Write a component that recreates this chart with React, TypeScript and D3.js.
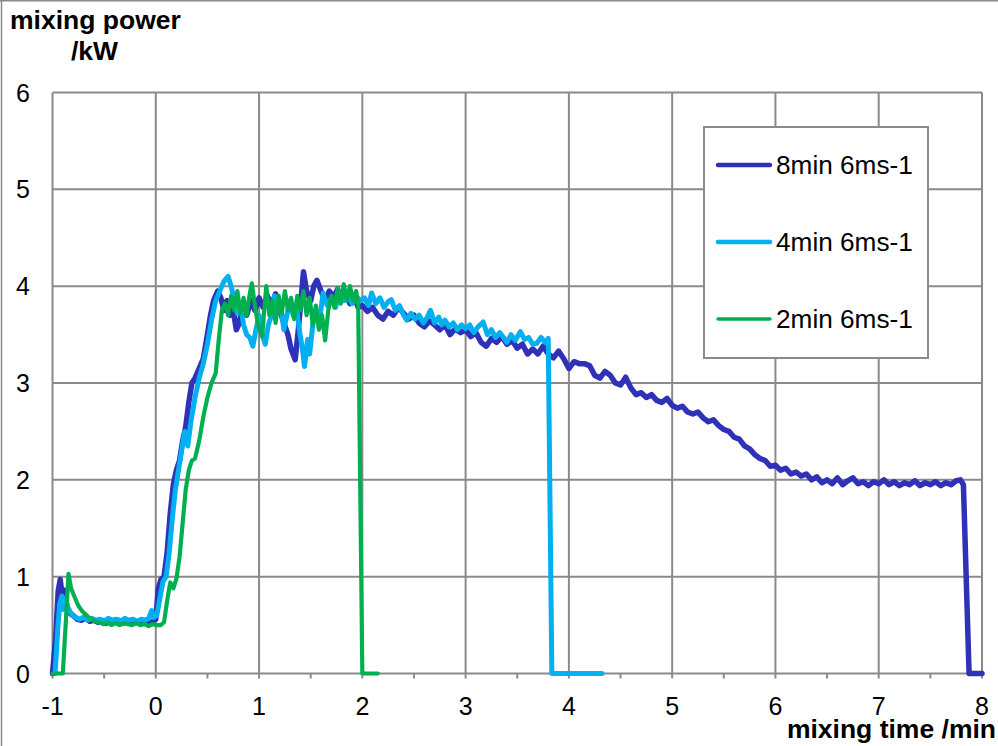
import React from "react";
import * as d3 from "d3";

const xTicks = [-1, 0, 1, 2, 3, 4, 5, 6, 7, 8];
const yTicks = [0, 1, 2, 3, 4, 5, 6];
const seriesNames = ["8min 6ms-1", "4min 6ms-1", "2min 6ms-1"];
const seriesColors = ["#2f31b7", "#00b0f0", "#00b050"];

const run8min: [number, number][] = [
  [-1.0, 0], [-0.97, 0.35], [-0.945, 0.85], [-0.925, 0.97], [-0.905, 0.78], [-0.885, 0.86], [-0.86, 0.68],
  [-0.83, 0.62], [-0.8, 0.6], [-0.76, 0.56], [-0.72, 0.55], [-0.68, 0.57], [-0.64, 0.54], [-0.6, 0.55],
  [-0.56, 0.53], [-0.52, 0.55], [-0.48, 0.52], [-0.44, 0.54], [-0.4, 0.53], [-0.36, 0.55], [-0.32, 0.52],
  [-0.28, 0.54], [-0.24, 0.52], [-0.2, 0.54], [-0.16, 0.52], [-0.12, 0.53], [-0.08, 0.51], [-0.04, 0.53],
  [0.0, 0.56], [0.025, 0.88], [0.05, 0.97], [0.08, 1.0], [0.11, 1.25], [0.14, 1.65], [0.17, 1.95],
  [0.2, 2.1], [0.23, 2.2], [0.26, 2.4], [0.29, 2.55], [0.32, 2.8], [0.35, 3.0], [0.38, 3.05], [0.42, 3.15],
  [0.46, 3.25], [0.5, 3.5], [0.53, 3.7], [0.56, 3.85], [0.6, 3.95], [0.63, 3.88], [0.66, 3.75], [0.69, 3.85],
  [0.72, 3.7], [0.75, 3.75], [0.78, 3.55], [0.81, 3.62], [0.84, 3.8], [0.88, 3.7], [0.92, 3.85], [0.96, 3.75],
  [1.0, 3.88], [1.04, 3.78], [1.08, 3.9], [1.12, 3.8], [1.16, 3.92], [1.2, 3.75], [1.24, 3.62], [1.28, 3.5],
  [1.31, 3.35], [1.35, 3.24], [1.38, 3.55], [1.41, 3.9], [1.43, 4.15], [1.46, 3.95], [1.5, 3.85], [1.53, 4.0],
  [1.56, 4.06], [1.6, 3.95], [1.64, 3.85], [1.68, 3.95], [1.72, 3.88], [1.76, 3.97], [1.8, 3.85], [1.84, 3.92],
  [1.88, 3.82], [1.92, 3.9], [1.96, 3.78], [2.0, 3.8], [2.05, 3.74], [2.1, 3.78], [2.15, 3.7], [2.2, 3.66],
  [2.25, 3.74], [2.3, 3.7], [2.35, 3.78], [2.4, 3.72], [2.45, 3.66], [2.5, 3.7], [2.55, 3.62], [2.6, 3.58],
  [2.65, 3.64], [2.7, 3.6], [2.75, 3.55], [2.8, 3.6], [2.85, 3.5], [2.9, 3.56], [2.95, 3.52], [3.0, 3.55],
  [3.05, 3.48], [3.1, 3.52], [3.15, 3.42], [3.2, 3.38], [3.25, 3.46], [3.3, 3.42], [3.35, 3.48], [3.4, 3.4],
  [3.45, 3.44], [3.5, 3.36], [3.55, 3.4], [3.6, 3.3], [3.65, 3.35], [3.7, 3.3], [3.75, 3.38], [3.8, 3.3],
  [3.85, 3.26], [3.9, 3.33], [3.95, 3.25], [4.0, 3.15], [4.05, 3.22], [4.1, 3.2], [4.15, 3.2], [4.2, 3.18],
  [4.25, 3.08], [4.3, 3.05], [4.35, 3.12], [4.4, 3.08], [4.45, 3.0], [4.5, 2.98], [4.55, 3.06], [4.6, 2.95],
  [4.65, 2.88], [4.7, 2.9], [4.75, 2.85], [4.8, 2.88], [4.85, 2.82], [4.9, 2.8], [4.95, 2.84], [5.0, 2.77],
  [5.05, 2.74], [5.1, 2.76], [5.15, 2.7], [5.2, 2.68], [5.25, 2.7], [5.3, 2.64], [5.35, 2.6], [5.4, 2.62],
  [5.45, 2.56], [5.5, 2.52], [5.55, 2.5], [5.6, 2.44], [5.65, 2.42], [5.7, 2.35], [5.75, 2.32], [5.8, 2.26],
  [5.85, 2.22], [5.9, 2.2], [5.95, 2.14], [6.0, 2.15], [6.05, 2.1], [6.1, 2.12], [6.15, 2.06], [6.2, 2.08],
  [6.25, 2.04], [6.3, 2.06], [6.35, 2.0], [6.4, 2.03], [6.45, 1.97], [6.5, 2.0], [6.55, 1.96], [6.6, 2.02],
  [6.65, 1.95], [6.7, 1.99], [6.75, 2.02], [6.8, 1.96], [6.85, 1.98], [6.9, 1.94], [6.95, 1.98], [7.0, 1.96],
  [7.05, 2.0], [7.1, 1.95], [7.15, 1.98], [7.2, 1.94], [7.25, 1.97], [7.3, 1.95], [7.35, 1.99], [7.4, 1.94],
  [7.45, 1.97], [7.5, 1.95], [7.55, 1.98], [7.6, 1.94], [7.65, 1.97], [7.7, 1.95], [7.75, 1.99], [7.79, 2.0],
  [7.82, 1.95], [7.875, 0], [8.0, 0],
];

const run4min: [number, number][] = [
  [-0.975, 0], [-0.95, 0.45], [-0.93, 0.72], [-0.91, 0.8], [-0.895, 0.66], [-0.875, 0.78], [-0.85, 0.68],
  [-0.82, 0.62], [-0.78, 0.58], [-0.74, 0.56], [-0.7, 0.58], [-0.66, 0.55], [-0.62, 0.57], [-0.58, 0.55],
  [-0.54, 0.56], [-0.5, 0.54], [-0.46, 0.57], [-0.42, 0.55], [-0.38, 0.56], [-0.34, 0.54], [-0.3, 0.57],
  [-0.26, 0.55], [-0.22, 0.56], [-0.18, 0.54], [-0.14, 0.56], [-0.1, 0.55], [-0.07, 0.57], [-0.04, 0.65],
  [-0.02, 0.58], [0.01, 0.6], [0.04, 0.78], [0.07, 0.95], [0.1, 1.0], [0.13, 1.25], [0.16, 1.6], [0.19, 1.9],
  [0.22, 2.1], [0.25, 2.3], [0.28, 2.5], [0.31, 2.35], [0.34, 2.6], [0.38, 2.85], [0.42, 3.05], [0.46, 3.2],
  [0.5, 3.4], [0.54, 3.65], [0.58, 3.85], [0.62, 3.95], [0.66, 4.05], [0.7, 4.1], [0.73, 4.0], [0.76, 3.85],
  [0.79, 3.72], [0.82, 3.8], [0.85, 3.6], [0.88, 3.5], [0.91, 3.47], [0.94, 3.38], [0.97, 3.55], [1.0, 3.7],
  [1.03, 3.5], [1.06, 3.4], [1.09, 3.6], [1.12, 3.7], [1.15, 3.9], [1.18, 3.75], [1.21, 3.8], [1.24, 3.55],
  [1.27, 3.7], [1.3, 3.85], [1.33, 3.7], [1.36, 3.8], [1.39, 3.55], [1.42, 3.35], [1.44, 3.17], [1.47, 3.45],
  [1.49, 3.3], [1.52, 3.6], [1.55, 3.75], [1.58, 3.6], [1.62, 3.93], [1.66, 3.8], [1.7, 3.88], [1.74, 3.78],
  [1.78, 3.92], [1.82, 3.85], [1.86, 3.95], [1.9, 3.82], [1.94, 3.9], [1.98, 3.85], [2.02, 3.88], [2.06, 3.8],
  [2.09, 3.93], [2.13, 3.82], [2.17, 3.88], [2.21, 3.78], [2.25, 3.84], [2.28, 3.86], [2.32, 3.75], [2.36, 3.8],
  [2.4, 3.7], [2.43, 3.65], [2.47, 3.72], [2.51, 3.66], [2.55, 3.7], [2.59, 3.62], [2.63, 3.68], [2.66, 3.75],
  [2.7, 3.62], [2.74, 3.68], [2.77, 3.6], [2.8, 3.65], [2.84, 3.58], [2.88, 3.62], [2.92, 3.55], [2.96, 3.6],
  [3.0, 3.56], [3.04, 3.6], [3.08, 3.52], [3.12, 3.58], [3.17, 3.63], [3.21, 3.5], [3.25, 3.55], [3.29, 3.47],
  [3.33, 3.52], [3.36, 3.48], [3.4, 3.42], [3.44, 3.5], [3.48, 3.44], [3.53, 3.53], [3.57, 3.45], [3.61, 3.47],
  [3.65, 3.4], [3.69, 3.41], [3.73, 3.47], [3.77, 3.42], [3.8, 3.46], [3.835, 0], [4.32, 0],
];

const run2min: [number, number][] = [
  [-1.0, 0], [-0.9, 0], [-0.87, 0.55], [-0.845, 1.03], [-0.82, 0.88], [-0.79, 0.8], [-0.75, 0.7], [-0.71, 0.64],
  [-0.67, 0.6], [-0.63, 0.56], [-0.59, 0.54], [-0.55, 0.53], [-0.51, 0.51], [-0.47, 0.53], [-0.43, 0.5],
  [-0.39, 0.52], [-0.35, 0.5], [-0.31, 0.52], [-0.27, 0.51], [-0.23, 0.5], [-0.19, 0.52], [-0.15, 0.5],
  [-0.11, 0.51], [-0.07, 0.49], [-0.03, 0.51], [0.01, 0.5], [0.05, 0.5], [0.08, 0.53], [0.11, 0.75],
  [0.14, 0.94], [0.17, 0.88], [0.2, 0.98], [0.23, 1.2], [0.26, 1.55], [0.29, 1.9], [0.32, 2.1], [0.35, 2.2],
  [0.38, 2.22], [0.42, 2.4], [0.46, 2.65], [0.5, 2.85], [0.54, 3.0], [0.58, 3.1], [0.61, 3.45], [0.64, 3.75],
  [0.67, 3.82], [0.7, 3.7], [0.73, 3.9], [0.76, 3.75], [0.79, 3.95], [0.82, 3.72], [0.85, 3.88], [0.88, 3.7],
  [0.91, 3.92], [0.93, 4.03], [0.96, 3.8], [0.99, 3.6], [1.03, 3.48], [1.05, 3.75], [1.07, 4.0], [1.1, 3.7],
  [1.13, 3.85], [1.16, 3.62], [1.19, 3.9], [1.22, 3.72], [1.25, 3.95], [1.28, 3.75], [1.31, 3.88], [1.34, 3.66],
  [1.37, 3.9], [1.4, 3.75], [1.43, 3.95], [1.46, 3.7], [1.49, 3.88], [1.52, 3.6], [1.55, 3.8], [1.58, 3.55],
  [1.61, 3.7], [1.64, 3.44], [1.67, 3.75], [1.7, 3.9], [1.73, 3.78], [1.76, 3.98], [1.79, 3.82], [1.82, 4.02],
  [1.85, 3.85], [1.88, 4.0], [1.91, 3.85], [1.94, 3.95], [1.96, 3.8], [2.0, 0], [2.15, 0],
];

const allSeries = [run8min, run4min, run2min];
const seriesWidths = [5.5, 5, 4.2];
const legendWidths = [4.5, 4.5, 3.5];

const W = 998;
const H = 746;
const L = 52.5, R = 982, T = 92.5, B = 673.5;
const FONT = "'Liberation Sans', Arial, sans-serif";
const GRID = "#8a8a8a";

export default function App() {
  const x = d3.scaleLinear().domain([-1, 8]).range([L, R]);
  const y = d3.scaleLinear().domain([0, 6]).range([B, T]);
  const line = d3
    .line<[number, number]>()
    .x((d) => x(d[0]))
    .y((d) => y(d[1]));
  const minorTicks = d3.range(-1, 8.001, 0.5);

  return (
    <svg
      width={W}
      height={H}
      style={{ position: "absolute", left: 0, top: 0, background: "#fff" }}
      fontFamily={FONT}
    >
      <rect x={0} y={0} width={W} height={H} fill="#fff" />
      <line x1={1.5} y1={0} x2={1.5} y2={H} stroke={GRID} strokeWidth={1.5} />
      <line x1={0} y1={0.75} x2={W} y2={0.75} stroke={GRID} strokeWidth={1.5} />

      {xTicks.map((t) => (
        <line key={"gx" + t} x1={x(t)} x2={x(t)} y1={T} y2={B} stroke={GRID} strokeWidth={2} />
      ))}
      {yTicks.map((t) => (
        <line key={"gy" + t} x1={L} x2={R} y1={y(t)} y2={y(t)} stroke={GRID} strokeWidth={2} />
      ))}
      {minorTicks.map((t) => (
        <line key={"mt" + t} x1={x(t)} x2={x(t)} y1={B} y2={B + 5} stroke={GRID} strokeWidth={2} />
      ))}

      {allSeries.map((s, i) => (
        <path
          key={"s" + i}
          d={line(s) || ""}
          fill="none"
          stroke={seriesColors[i]}
          strokeWidth={seriesWidths[i]}
          strokeLinejoin="round"
          strokeLinecap="round"
        />
      ))}

      {yTicks.map((t) => (
        <text key={"yl" + t} x={30} y={y(t) + 9} textAnchor="end" fontSize={25} fill="#000">
          {t}
        </text>
      ))}
      {xTicks.map((t) => (
        <text key={"xl" + t} x={x(t)} y={715} textAnchor="middle" fontSize={25} fill="#000">
          {t}
        </text>
      ))}

      <text x={10} y={29} fontSize={26.5} fontWeight="bold" fill="#000">
        mixing power
      </text>
      <text x={71} y={60} fontSize={26.5} fontWeight="bold" fill="#000">
        /kW
      </text>
      <text x={996} y={738} textAnchor="end" fontSize={26.5} fontWeight="bold" fill="#000">
        mixing time /min
      </text>

      <rect x={704} y={127} width={224} height={231} fill="#fff" stroke={GRID} strokeWidth={2} />
      {seriesNames.map((n, i) => {
        const cy = 165 + i * 77;
        return (
          <g key={"lg" + i}>
            <line
              x1={718}
              x2={770}
              y1={cy}
              y2={cy}
              stroke={seriesColors[i]}
              strokeWidth={legendWidths[i]}
              strokeLinecap="round"
            />
            <text x={776} y={cy + 9} fontSize={26.2} fill="#000">
              {n}
            </text>
          </g>
        );
      })}
    </svg>
  );
}
